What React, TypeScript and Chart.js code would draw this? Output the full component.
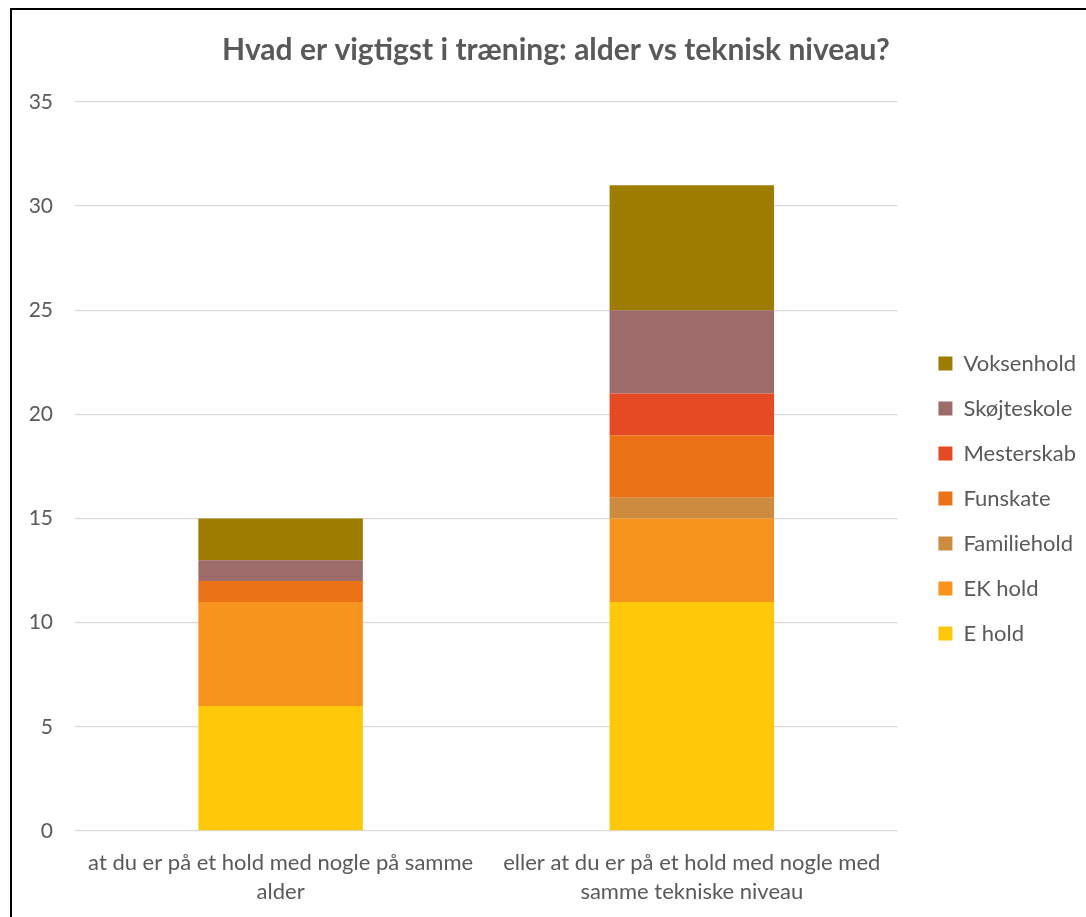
import React, { useEffect, useRef } from "react";
import { Chart, registerables } from "chart.js";
Chart.register(...registerables);

const categories: string[][] = [
  ["at du er på et hold med nogle på samme", "alder"],
  ["eller at du er på et hold med nogle med", "samme tekniske niveau"],
];
const seriesNames = ["E hold", "EK hold", "Familiehold", "Funskate", "Mesterskab", "Skøjteskole", "Voksenhold"];
const eHold = [6, 11];
const ekHold = [5, 4];
const familiehold = [0, 1];
const funskate = [1, 3];
const mesterskab = [0, 2];
const skoejteskole = [1, 4];
const voksenhold = [2, 6];
const seriesColors = ["#FFC90A", "#F7941E", "#CD8B3F", "#EB7217", "#E64A24", "#9E6B6B", "#9E7C00"];
const titleText = "Hvad er vigtigst i træning: alder vs teknisk niveau?";

const FONT = "Lato, 'Open Sans', sans-serif";
const TEXT = "#595959";

const boxShift = {
  id: "boxShift",
  afterLayout(chart: any) {
    const lg = chart.legend;
    if (lg) {
      lg.left += 18;
      lg.right += 18;
      lg.top += 40;
      lg.bottom += 40;
    }
    const tb = chart.titleBlock;
    if (tb) {
      tb.left += 12;
      tb.right += 12;
    }
  },
};

export default function App() {
  const ref = useRef<HTMLCanvasElement | null>(null);
  useEffect(() => {
    const values = [eHold, ekHold, familiehold, funskate, mesterskab, skoejteskole, voksenhold];
    const chart = new Chart(ref.current!, {
      type: "bar",
      data: {
        labels: categories,
        datasets: seriesNames.map((name, i) => ({
          label: name,
          data: values[i],
          backgroundColor: seriesColors[i],
          borderWidth: 0,
          barPercentage: 0.4,
          categoryPercentage: 1,
        })),
      },
      plugins: [boxShift],
      options: {
        animation: false,
        responsive: false,
        maintainAspectRatio: false,
        layout: { padding: { left: 20, right: 18, top: 0, bottom: 0 } },
        plugins: {
          title: {
            display: true,
            text: titleText,
            color: TEXT,
            font: { family: FONT, size: 30, weight: "bold" },
            padding: { top: 32, bottom: 34 },
          },
          legend: {
            position: "right",
            reverse: true,
            labels: {
              boxWidth: 14,
              boxHeight: 14,
              padding: 23,
              color: TEXT,
              font: { family: FONT, size: 22 },
            },
          },
          tooltip: { enabled: false },
        },
        scales: {
          x: {
            stacked: true,
            afterFit: (s: any) => { s.height = 86; },
            grid: { display: false, drawTicks: false },
            border: { display: false },
            ticks: { color: TEXT, font: { family: FONT, size: 22, lineHeight: 1.3 }, maxRotation: 0, autoSkip: false, padding: 18 },
          },
          y: {
            stacked: true,
            min: 0,
            max: 35,
            afterFit: (s: any) => { s.width = 55; },
            ticks: { stepSize: 5, color: TEXT, font: { family: FONT, size: 21 }, padding: 22 },
            grid: { color: "#D9D9D9", lineWidth: 1.3, drawTicks: false },
            border: { display: false },
          },
        },
      },
    });
    return () => chart.destroy();
  }, []);
  return (
    <div style={{ position: "fixed", left: 0, top: 0, width: 1086, height: 917, overflow: "hidden", background: "#fff" }}>
      <div style={{ position: "absolute", left: 10, top: 8, width: 2000, height: 2000, borderLeft: "2px solid #000", borderTop: "2px solid #000" }} />
      <canvas ref={ref} width={1086} height={917} style={{ position: "absolute", left: 0, top: 0 }} />
    </div>
  );
}
